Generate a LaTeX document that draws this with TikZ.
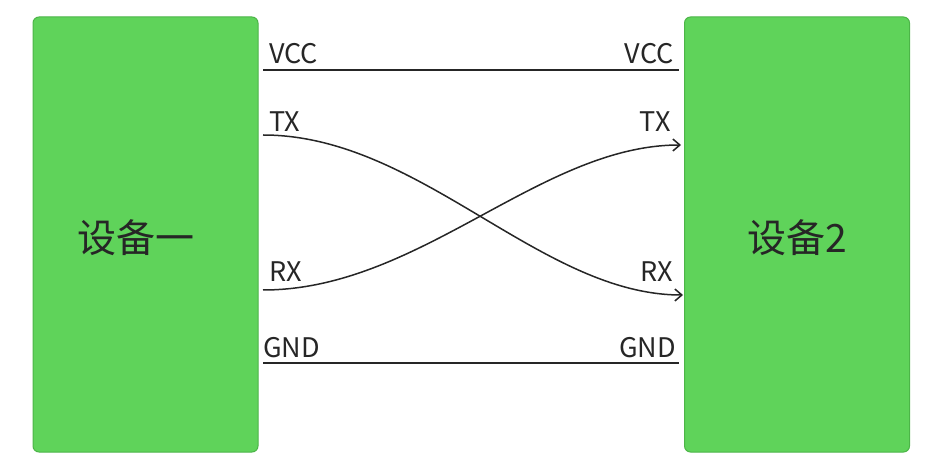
\documentclass[tikz,border=0pt]{standalone}
\usepackage{fontspec}
\setmainfont{Noto Sans CJK SC}
\usetikzlibrary{arrows.meta}
\definecolor{boxg}{HTML}{5FD35A}
\definecolor{boxb}{HTML}{4CB548}
\begin{document}
\begin{tikzpicture}[x=1pt,y=-1pt,
  dev/.style={draw=boxb,fill=boxg,rounded corners=6pt,line width=1pt,minimum width=225pt,minimum height=435pt,inner sep=0pt},
  devtxt/.style={font=\fontsize{39}{41}\selectfont,text=black!85,inner sep=0pt},
  sig/.style={font=\fontsize{27}{29}\selectfont,inner sep=0pt,text=black!85},
  wire/.style={line width=1.5pt,black!85},
  arr/.style={wire,-{Straight Barb[length=7pt,width=12pt]}}]
\useasboundingbox (0,0) rectangle (942,470);
\node[dev] (A) at (145.5,234.5) {};
\node[dev] (B) at (797,234.5) {};
\node[devtxt] (At) at (136,238) {设备一};
\node[devtxt] (Bt) at (797,238) {设备2};
\coordinate (v1) at (263,70); \coordinate (v2) at (679,70);
\coordinate (t1) at (263,135); \coordinate (t2) at (681,145);
\coordinate (r1) at (263,290); \coordinate (r2) at (683,295);
\coordinate (g1) at (263,363); \coordinate (g2) at (679,363);
\draw[wire] (v1) -- (v2);
\draw[wire] (g1) -- (g2);
\draw[arr] (t1) .. controls (420,135) and (540,295) .. (r2);
\draw[arr] (r1) .. controls (420,290) and (540,145) .. (t2);
\node[sig,anchor=base west] (lv) at (269,64) {VCC};
\node[sig,anchor=base east] (rv) at (674,64) {VCC};
\node[sig,anchor=base west] (lt) at (269,132) {TX};
\node[sig,anchor=base east] (rt) at (671,132) {TX};
\node[sig,anchor=base west] (lr) at (269,282) {RX};
\node[sig,anchor=base east] (rr) at (673,282) {RX};
\node[sig,anchor=base west] (lg) at (263,357) {GND};
\node[sig,anchor=base east] (rg) at (676,357) {GND};
\end{tikzpicture}
\end{document}
